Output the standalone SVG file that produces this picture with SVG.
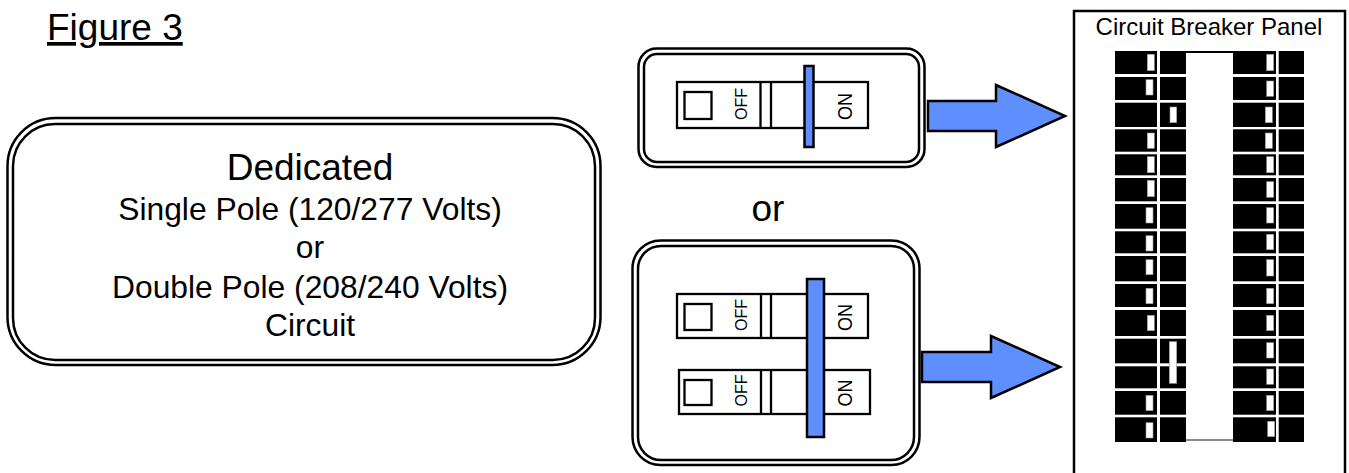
<svg xmlns="http://www.w3.org/2000/svg" width="1349" height="473" viewBox="0 0 1349 473">
<style>
text{font-family:"Liberation Sans",Arial,sans-serif;fill:#000}
.m{text-anchor:middle}
.box{fill:none;stroke:#000;stroke-width:2.5}
.brk{fill:#fff;stroke:#000;stroke-width:2.300}
.ln{stroke:#000;stroke-width:2.300;fill:none}
.bar{fill:#5f8fff;stroke:#000;stroke-width:2.500}
.arr{fill:#5f8fff;stroke:#000;stroke-width:2.500;stroke-linejoin:miter}
.off{font-size:16px}
.on{font-size:18px}
.b{fill:#000}
.h{fill:#fff;stroke:#999;stroke-width:.6}
</style>
<rect width="1349" height="473" fill="#fff"/>
<g id="title"><text x="47" y="40" font-size="37" text-decoration="underline">Figure 3</text></g>
<g id="dedicated-box">
<rect class="box" x="7.500" y="118" width="593" height="247" rx="48"/>
<rect class="box" x="13" y="124" width="582" height="236" rx="42"/>
<text class="m" x="310" y="180" font-size="37">Dedicated</text>
<text class="m" x="310" y="220" font-size="31.800">Single Pole (120/277 Volts)</text>
<text class="m" x="310" y="258" font-size="31.800">or</text>
<text class="m" x="310" y="298" font-size="31.800">Double Pole (208/240 Volts)</text>
<text class="m" x="310" y="335.500" font-size="31.800">Circuit</text>
</g>
<g id="or-label"><text class="m" x="768" y="221" font-size="37">or</text></g>
<g id="connectors">
<path class="arr" d="M928 101H996V85L1065 116L996 147V131H928Z"/>
<path class="arr" d="M922 352H991V336L1060 367L991 398V382H922Z"/>
</g>
<g id="single-pole">
<rect class="box" x="638.500" y="48.500" width="286" height="118.500" rx="18"/>
<rect class="box" x="644" y="54" width="275" height="108" rx="13"/>
<rect class="brk" x="677" y="82" width="191" height="46"/>
<rect class="brk" x="684.500" y="92" width="27" height="27"/>
<path class="ln" d="M760.500 82V128M771 82V128"/>
<text class="off" transform="translate(747.300 120) rotate(-90)">OFF</text>
<text class="on" transform="translate(852.300 120) rotate(-90) scale(1 1.120)">ON</text>
<rect class="bar" x="804.500" y="66" width="9" height="81"/>
</g>
<g id="double-pole">
<rect class="box" x="632.500" y="240.500" width="287" height="224.500" rx="28"/>
<rect class="box" x="638" y="246" width="276" height="214" rx="23"/>
<rect class="brk" x="677" y="294" width="191" height="44"/>
<rect class="brk" x="684.500" y="304" width="27" height="26"/>
<path class="ln" d="M761 294V338M771 294V338"/>
<text class="off" transform="translate(747.300 331) rotate(-90)">OFF</text>
<text class="on" transform="translate(852.300 331) rotate(-90) scale(1 1.120)">ON</text>
<rect class="brk" x="679" y="370" width="191" height="44"/>
<rect class="brk" x="684.500" y="380" width="27" height="25"/>
<path class="ln" d="M761 370V414M771 370V414"/>
<text class="off" transform="translate(747.300 406.500) rotate(-90)">OFF</text>
<text class="on" transform="translate(852.300 406.500) rotate(-90) scale(1 1.120)">ON</text>
<rect class="bar" x="807" y="279" width="17" height="158"/>
</g>
<g id="panel">
<path d="M1074 480V11H1345V480" fill="#fff" stroke="#000" stroke-width="2.500"/>
<text class="m" x="1209" y="35" font-size="24">Circuit Breaker Panel</text>
<g id="left-a" class="b">
<rect x="1115" y="51" width="42" height="23"/><rect x="1115" y="77" width="42" height="23"/><rect x="1115" y="102.700" width="42" height="24.300"/><rect x="1115" y="129.300" width="42" height="22.400"/><rect x="1115" y="154.300" width="42" height="21"/><rect x="1115" y="178" width="42" height="23.300"/><rect x="1115" y="204" width="42" height="24.700"/><rect x="1115" y="231.300" width="42" height="22"/><rect x="1115" y="256" width="42" height="25.300"/><rect x="1115" y="284" width="42" height="23"/><rect x="1115" y="310" width="42" height="26"/><rect x="1115" y="338.700" width="42" height="24.600"/><rect x="1115" y="366.300" width="42" height="22"/><rect x="1115" y="391" width="42" height="23.700"/><rect x="1115" y="417.300" width="42" height="24.700"/>
</g>
<g id="left-b" class="b">
<rect x="1160" y="51" width="26" height="23"/><rect x="1160" y="77" width="26" height="23"/><rect x="1160" y="102.700" width="26" height="24.300"/><rect x="1160" y="129.300" width="26" height="22.400"/><rect x="1160" y="154.300" width="26" height="21"/><rect x="1160" y="178" width="26" height="23.300"/><rect x="1160" y="204" width="26" height="24.700"/><rect x="1160" y="231.300" width="26" height="22"/><rect x="1160" y="256" width="26" height="25.300"/><rect x="1160" y="284" width="26" height="23"/><rect x="1160" y="310" width="26" height="26"/><rect x="1160" y="338.700" width="26" height="24.600"/><rect x="1160" y="366.300" width="26" height="22"/><rect x="1160" y="391" width="26" height="23.700"/><rect x="1160" y="417.300" width="26" height="24.700"/>
</g>
<g id="right-a" class="b">
<rect x="1233" y="51" width="43" height="23"/><rect x="1233" y="77" width="43" height="23"/><rect x="1233" y="102.700" width="43" height="24.300"/><rect x="1233" y="129.300" width="43" height="22.400"/><rect x="1233" y="154.300" width="43" height="21"/><rect x="1233" y="178" width="43" height="23.300"/><rect x="1233" y="204" width="43" height="24.700"/><rect x="1233" y="231.300" width="43" height="22"/><rect x="1233" y="256" width="43" height="25.300"/><rect x="1233" y="284" width="43" height="23"/><rect x="1233" y="310" width="43" height="26"/><rect x="1233" y="338.700" width="43" height="24.600"/><rect x="1233" y="366.300" width="43" height="22"/><rect x="1233" y="391" width="43" height="23.700"/><rect x="1233" y="417.300" width="43" height="24.700"/>
</g>
<g id="right-b" class="b">
<rect x="1278.700" y="51" width="25.300" height="23"/><rect x="1278.700" y="77" width="25.300" height="23"/><rect x="1278.700" y="102.700" width="25.300" height="24.300"/><rect x="1278.700" y="129.300" width="25.300" height="22.400"/><rect x="1278.700" y="154.300" width="25.300" height="21"/><rect x="1278.700" y="178" width="25.300" height="23.300"/><rect x="1278.700" y="204" width="25.300" height="24.700"/><rect x="1278.700" y="231.300" width="25.300" height="22"/><rect x="1278.700" y="256" width="25.300" height="25.300"/><rect x="1278.700" y="284" width="25.300" height="23"/><rect x="1278.700" y="310" width="25.300" height="26"/><rect x="1278.700" y="338.700" width="25.300" height="24.600"/><rect x="1278.700" y="366.300" width="25.300" height="22"/><rect x="1278.700" y="391" width="25.300" height="23.700"/><rect x="1278.700" y="417.300" width="25.300" height="24.700"/>
</g>
<path d="M1186 52H1233" stroke="#000" stroke-width="2"/>
<path d="M1186 440H1233" stroke="#666" stroke-width="1.500"/>
<g id="handles">
<rect class="h" x="1147.300" y="54.300" width="7" height="16.400"/><rect class="h" x="1146" y="79.700" width="7" height="15.300"/><rect class="h" x="1170" y="107" width="6.700" height="15.700"/><rect class="h" x="1147.300" y="133" width="7" height="15.300"/><rect class="h" x="1147.300" y="156.700" width="7" height="16"/><rect class="h" x="1147.300" y="180.300" width="7" height="16.400"/><rect class="h" x="1146" y="207.700" width="7" height="15.300"/><rect class="h" x="1146" y="235.700" width="7" height="15.300"/><rect class="h" x="1146" y="259.700" width="7" height="15"/><rect class="h" x="1146" y="288.300" width="7" height="15.400"/><rect class="h" x="1147.300" y="315.300" width="7" height="15.400"/><rect class="h" x="1169.300" y="341.700" width="7.400" height="41.600"/><rect class="h" x="1146" y="395.300" width="7" height="15.400"/><rect class="h" x="1146" y="422.700" width="7" height="15.300"/>
<rect class="h" x="1266.700" y="54.300" width="7" height="16.400"/><rect class="h" x="1266.700" y="81" width="7" height="15.300"/><rect class="h" x="1265.300" y="107" width="7" height="15.700"/><rect class="h" x="1265.300" y="133" width="7" height="15.300"/><rect class="h" x="1266.700" y="156.700" width="7" height="16"/><rect class="h" x="1266.700" y="181.700" width="7" height="15.600"/><rect class="h" x="1266.700" y="207.700" width="7" height="15.300"/><rect class="h" x="1266.700" y="234.300" width="7" height="15.400"/><rect class="h" x="1266.700" y="259.700" width="7" height="16.300"/><rect class="h" x="1266.700" y="288.300" width="7" height="15.400"/><rect class="h" x="1266.700" y="315.300" width="7" height="15.400"/><rect class="h" x="1266.700" y="342.700" width="7" height="15.300"/><rect class="h" x="1266.700" y="369" width="7" height="15.300"/><rect class="h" x="1266.700" y="395.300" width="7" height="15.400"/><rect class="h" x="1267.700" y="421.300" width="7" height="15.400"/>
</g>
</g>
</svg>
